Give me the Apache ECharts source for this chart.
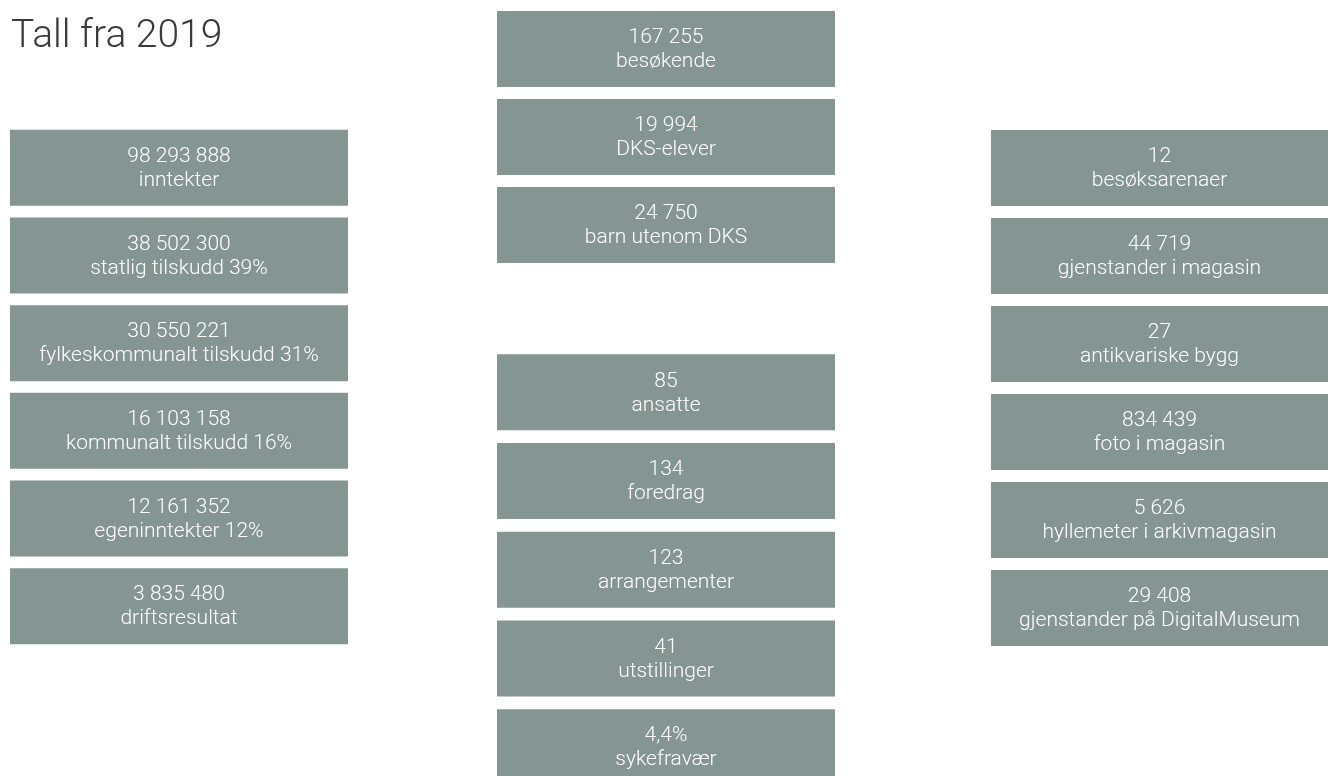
<!DOCTYPE html>
<html>
<head>
<meta charset="utf-8">
<script src="https://cdn.jsdelivr.net/npm/echarts@6/dist/echarts.min.js"></script>
<style>
  html, body { margin: 0; padding: 0; background: #fff; }
  #chart { width: 1328px; height: 776px; }
</style>
</head>
<body>
<div id="chart"></div>
<script>
// Tall fra 2019 - key figures, one column of boxes per group
const incomeValues = ['98 293 888', '38 502 300', '30 550 221', '16 103 158', '12 161 352', '3 835 480'];
const incomeLabels = ['inntekter', 'statlig tilskudd 39%', 'fylkeskommunalt tilskudd 31%',
  'kommunalt tilskudd 16%', 'egeninntekter 12%', 'driftsresultat'];

const audienceValues = ['167 255', '19 994', '24 750'];
const audienceLabels = ['besøkende', 'DKS-elever', 'barn utenom DKS'];

const activityValues = ['85', '134', '123', '41', '4,4%'];
const activityLabels = ['ansatte', 'foredrag', 'arrangementer', 'utstillinger', 'sykefravær'];

const collectionValues = ['12', '44 719', '27', '834 439', '5 626', '29 408'];
const collectionLabels = ['besøksarenaer', 'gjenstander i magasin', 'antikvariske bygg',
  'foto i magasin', 'hyllemeter i arkivmagasin', 'gjenstander på DigitalMuseum'];

const BOX_COLOR = '#859692';
const BOX_H = 76;
const FONT = 'Roboto, "Open Sans", sans-serif';

const chart = echarts.init(document.getElementById('chart'), null, { renderer: 'canvas' });

// each group gets its own grid; rows run top-down on a hidden value axis
// (rowMax < n-0.5 when the last box runs off the bottom of the page)
const groups = [
  { values: incomeValues, labels: incomeLabels, rowMax: 5.5,
    grid: { left: 10, top: 124, width: 338, height: 526 } },
  { values: audienceValues, labels: audienceLabels, rowMax: 2.5,
    grid: { left: 497, top: 5, width: 338, height: 264 } },
  { values: activityValues, labels: activityLabels, rowMax: 4.325,
    grid: { left: 497, top: 348, width: 338, height: 428 } },
  { values: collectionValues, labels: collectionLabels, rowMax: 5.5,
    grid: { left: 991, top: 124, width: 338, height: 528 } },
];

function renderBox(params, api) {
  const cs = params.coordSys;
  const center = api.coord([0, api.value(0)]);
  const idx = params.dataIndex;
  const g = groups[params.seriesIndex];
  return {
    type: 'group',
    children: [
      {
        type: 'rect',
        shape: { x: cs.x, y: center[1] - BOX_H / 2, width: cs.width, height: BOX_H },
        style: { fill: BOX_COLOR }
      },
      {
        type: 'text',
        x: cs.x + cs.width / 2,
        y: center[1] + 1,
        style: {
          text: g.values[idx] + '\n' + g.labels[idx],
          fill: '#ffffff',
          font: '300 21px ' + FONT,
          lineHeight: 24,
          align: 'center',
          verticalAlign: 'middle'
        }
      }
    ]
  };
}

const option = {
  animation: false,
  backgroundColor: '#ffffff',
  title: {
    text: 'Tall fra 2019',
    left: 6,
    top: 13,
    textStyle: { fontFamily: FONT, fontWeight: 300, fontSize: 39, color: '#3a3a3a' }
  },
  grid: groups.map(g => Object.assign({ containLabel: false }, g.grid)),
  xAxis: groups.map((g, i) => ({ type: 'value', gridIndex: i, min: 0, max: 1, show: false })),
  yAxis: groups.map((g, i) => ({
    type: 'value', gridIndex: i, inverse: true, show: false,
    min: -0.5, max: g.rowMax
  })),
  series: groups.map((g, i) => ({
    type: 'custom',
    xAxisIndex: i,
    yAxisIndex: i,
    renderItem: renderBox,
    clip: false,
    data: g.labels.map((l, j) => [j]),
    encode: { y: 0 }
  }))
};

chart.setOption(option);
</script>
</body>
</html>
